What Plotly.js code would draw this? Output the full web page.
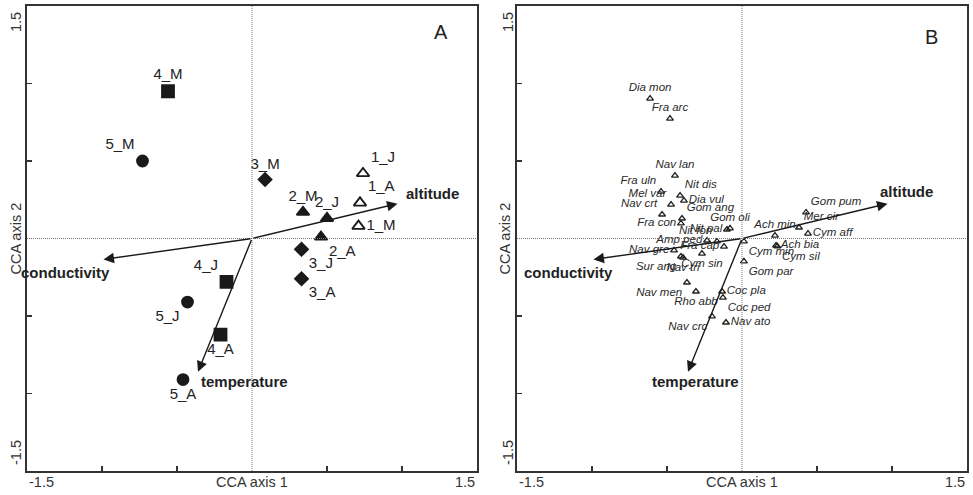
<!DOCTYPE html>
<html>
<head>
<meta charset="utf-8">
<script src="https://cdn.plot.ly/plotly-3.0.1.min.js"></script>
<style>html,body{margin:0;padding:0;background:#fff;}#chart{width:973px;height:495px;}</style>
</head>
<body>
<div id="chart"></div>
<script>
// ---- Panel A: sample sites ----
var siteNames = ['4_M','5_M','3_M','1_J','1_A','1_M','2_M','2_J','2_A','3_J','3_A','4_J','5_J','4_A','5_A'];
var siteX = [-0.56,-0.73,0.087,0.74,0.72,0.71,0.34,0.50,0.46,0.33,0.33,-0.17,-0.43,-0.21,-0.46];
var siteY = [0.95,0.50,0.38,0.42,0.23,0.08,0.17,0.13,0.01,-0.07,-0.26,-0.28,-0.41,-0.62,-0.91];

// ---- Panel B: species ----
var speciesNames = ['Dia mon','Fra arc','Nav lan','Fra uln','Nit dis','Dia vul','Mel var','Nav crt','Gom ang','Fra con',
  'Nit pal','Gom oli','Amp ped','Nit fon','Cym min','Fra cap','Cym sin','Nav gre','Sur ang','Nav tri','Gom par',
  'Nav men','Rho abb','Coc pla','Coc ped','Nav crc','Nav ato','Gom pum','Mer cir','Cym aff','Ach min','Cym sil','Ach bia'];
var speciesX = [-0.613,-0.48,-0.447,-0.54,-0.413,-0.387,-0.473,-0.533,-0.40,-0.407,
  -0.10,-0.08,-0.233,-0.167,0.013,-0.12,-0.267,-0.453,-0.407,-0.393,0.013,
  -0.367,-0.307,-0.133,-0.127,-0.20,-0.107,0.427,0.38,0.44,0.22,0.235,0.227];
var speciesY = [0.903,0.774,0.406,0.303,0.277,0.245,0.219,0.155,0.129,0.097,
  0.058,0.065,-0.013,-0.019,-0.019,-0.052,-0.097,-0.077,-0.116,-0.123,-0.148,
  -0.284,-0.342,-0.342,-0.381,-0.503,-0.542,0.168,0.071,0.032,0.019,-0.05,-0.045];

// ---- Environmental vectors ----
var envNames = ['altitude','conductivity','temperature'];
var envX = [0.97,-0.99,-0.36];
var envY = [0.225,-0.135,-0.86];

// ---- styling (not data) ----
var siteTextPos = ['top center','top left','top center','top right','top right','middle right','top center','top center',
  'bottom right','bottom right','bottom right','top left','bottom left','bottom center','bottom center'];
var speciesTextPos = ['top center','top center','top center','top left','top right','middle right','top left','top left','top right','middle left',
  'middle left','top center','middle left','top left','bottom right','middle left','bottom center','middle left','bottom left','bottom center','bottom right',
  'bottom left','bottom center','middle right','bottom right','bottom left','middle right','top right','top right','middle right','top center','bottom right','middle right'];
var envLabelA = [{xa:'left',dx:6,dy:10},{xa:'center',dx:-38,dy:-13},{xa:'left',dx:1,dy:-10}];
var envLabelB = [{xa:'center',dx:19,dy:12},{xa:'center',dx:-25,dy:-13},{xa:'center',dx:7,dy:-10}];

var ink = '#1a1a1a';
function symFor(name){
  var s = name.charAt(0);
  return {'1':'triangle-up-open','2':'triangle-up','3':'diamond','4':'square','5':'circle'}[s];
}
function sizeFor(name){
  var s = name.charAt(0);
  return {'1':11,'2':11,'3':10,'4':12,'5':11}[s];
}

var traces = [];
traces.push({
  type:'scatter', mode:'markers+text', xaxis:'x', yaxis:'y',
  x: siteX, y: siteY, text: siteNames, textposition: siteTextPos,
  textfont:{family:'Arial, Liberation Sans, sans-serif', size:15, color:'#222'},
  marker:{symbol: siteNames.map(symFor), size: siteNames.map(sizeFor), color: ink, opacity:1, line:{color:ink, width:1.8}},
  cliponaxis:false, hoverinfo:'none', showlegend:false
});
traces.push({
  type:'scatter', mode:'markers+text', xaxis:'x2', yaxis:'y2',
  x: speciesX, y: speciesY, text: speciesNames, textposition: speciesTextPos,
  textfont:{family:'Arial, Liberation Sans, sans-serif', size:11.5, color:'#2a2a2a', style:'italic'},
  marker:{symbol:'triangle-up-open', size:6, color:'#222', opacity:1, line:{color:'#222', width:1.3}},
  cliponaxis:false, hoverinfo:'none', showlegend:false
});

var annotations = [];
var shapes = [];
var fontBase = {family:'Arial, Liberation Sans, sans-serif', color:ink};
var grey = '#333';

function panel(xr, yr, labelStyle, letter, letterPos, xPaperTitle, xPaperTicks){
  for (var i=0;i<envNames.length;i++){
    annotations.push({xref:xr, yref:yr, axref:xr, ayref:yr, x:envX[i], y:envY[i], ax:0, ay:0,
      text:'', showarrow:true, arrowhead:2, arrowsize:1.5, arrowwidth:1.4, arrowcolor:ink});
    annotations.push({xref:xr, yref:yr, x:envX[i], y:envY[i], text:'<b>'+envNames[i]+'</b>', showarrow:false,
      xanchor:labelStyle[i].xa, yanchor:'middle', xshift:labelStyle[i].dx, yshift:labelStyle[i].dy,
      font:{family:fontBase.family, size:15, color:'#222'}});
  }
  shapes.push({type:'line', xref:xr, yref:yr+' domain', x0:0, x1:0, y0:0, y1:1, line:{color:'#777', width:1, dash:'1px,1px'}});
  shapes.push({type:'line', xref:xr+' domain', yref:yr, x0:0, x1:1, y0:0, y1:0, line:{color:'#777', width:1, dash:'1px,1px'}});
  annotations.push({xref:xr+' domain', yref:yr+' domain', x:letterPos[0], y:letterPos[1], text:letter, showarrow:false,
    xanchor:'center', yanchor:'middle', font:{family:fontBase.family, size:20, color:'#222'}});
  var tf = {family:fontBase.family, size:14.5, color:grey};
  annotations.push({xref:xr, yref:'paper', x:0, y:1-482/495, text:'CCA axis 1', showarrow:false,
    xanchor:'center', yanchor:'middle', font:tf});
  annotations.push({xref:'paper', yref:yr, x:xPaperTitle, y:0, text:'CCA axis 2', showarrow:false, textangle:-90,
    xanchor:'center', yanchor:'middle', font:tf});
  annotations.push({xref:xr, yref:'paper', x:-1.5, y:1-482/495, text:'-1.5', showarrow:false,
    xanchor:'left', yanchor:'middle', font:tf});
  annotations.push({xref:xr, yref:'paper', x:1.5, y:1-482/495, text:'1.5', showarrow:false,
    xanchor:'right', yanchor:'middle', font:tf});
  annotations.push({xref:'paper', yref:'paper', x:xPaperTicks, y:1-22/495, text:'1.5', showarrow:false, textangle:-90,
    xanchor:'center', yanchor:'middle', font:tf});
  annotations.push({xref:'paper', yref:'paper', x:xPaperTicks, y:1-453/495, text:'-1.5', showarrow:false, textangle:-90,
    xanchor:'center', yanchor:'middle', font:tf});
}
panel('x','y', envLabelA, 'A', [0.92, 0.945], 16/973, 16/973);
panel('x2','y2', envLabelB, 'B', [0.92, 0.934], 505/973, 508/973);

function ax(dom, anchor){
  return {domain:dom, range:[-1.5,1.5], anchor:anchor, showgrid:false, zeroline:false,
    showline:true, mirror:true, linecolor:'#333', linewidth:2,
    ticks:'inside', ticklen:5, tickwidth:1.5, tickcolor:'#333', tickvals:[-1,-0.5,0.5,1], showticklabels:false, fixedrange:true};
}
var yd = [1-471/495, 1-6/495];
var layout = {
  width:973, height:495, margin:{l:0,r:0,t:0,b:0},
  paper_bgcolor:'#fff', plot_bgcolor:'#fff', showlegend:false,
  xaxis: ax([27/973, 477/973], 'y'),
  yaxis: ax(yd, 'x'),
  xaxis2: ax([517/973, 967/973], 'y2'),
  yaxis2: ax(yd, 'x2'),
  annotations: annotations, shapes: shapes
};
Plotly.newPlot('chart', traces, layout, {displayModeBar:false, staticPlot:true});
</script>
</body>
</html>
